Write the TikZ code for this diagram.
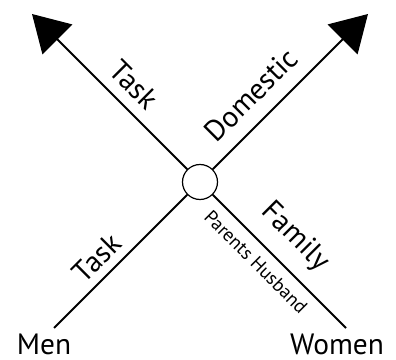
\documentclass[tikz,border=0pt]{standalone}
\usepackage{fontspec}
\setmainfont{PT Sans}
\usetikzlibrary{arrows.meta}
\begin{document}
\begin{tikzpicture}[x=1bp,y=1bp,
	axisLine/.style={line width=1.8bp},
	axisArrow/.style={axisLine,-{Triangle[length=36bp,width=42bp]}},
	bigLabel/.style={font=\fontsize{29.5}{32}\selectfont,inner sep=0pt},
	smallLabel/.style={font=\fontsize{19}{22}\selectfont,inner sep=0pt}]
\useasboundingbox (0,0) rectangle (396,360);
\node[draw,circle,line width=1.2bp,minimum size=35bp,inner sep=0pt] (centre) at (200,178) {};
\coordinate (task end) at (32,346);
\coordinate (domestic end) at (368,346);
\coordinate (men end) at (54,32);
\coordinate (women end) at (346,32);
\draw[axisArrow] (centre) -- (task end);
\draw[axisArrow] (centre) -- (domestic end);
\draw[axisLine] (centre) -- (men end);
\draw[axisLine] (centre) -- (women end);
\node[bigLabel,rotate=-45] (task top) at (134,275) {Task};
\node[bigLabel,rotate=45] (domestic) at (251,265) {Domestic};
\node[bigLabel,rotate=45] (task bottom) at (97,102) {Task};
\node[bigLabel,rotate=-45] (family) at (295,123) {Family};
\node[smallLabel,rotate=-45] (parents) at (256,98) {Parents Husband};
\node[bigLabel] (men) at (44,16) {Men};
\node[bigLabel] (women) at (337,16) {Women};
\end{tikzpicture}
\end{document}
